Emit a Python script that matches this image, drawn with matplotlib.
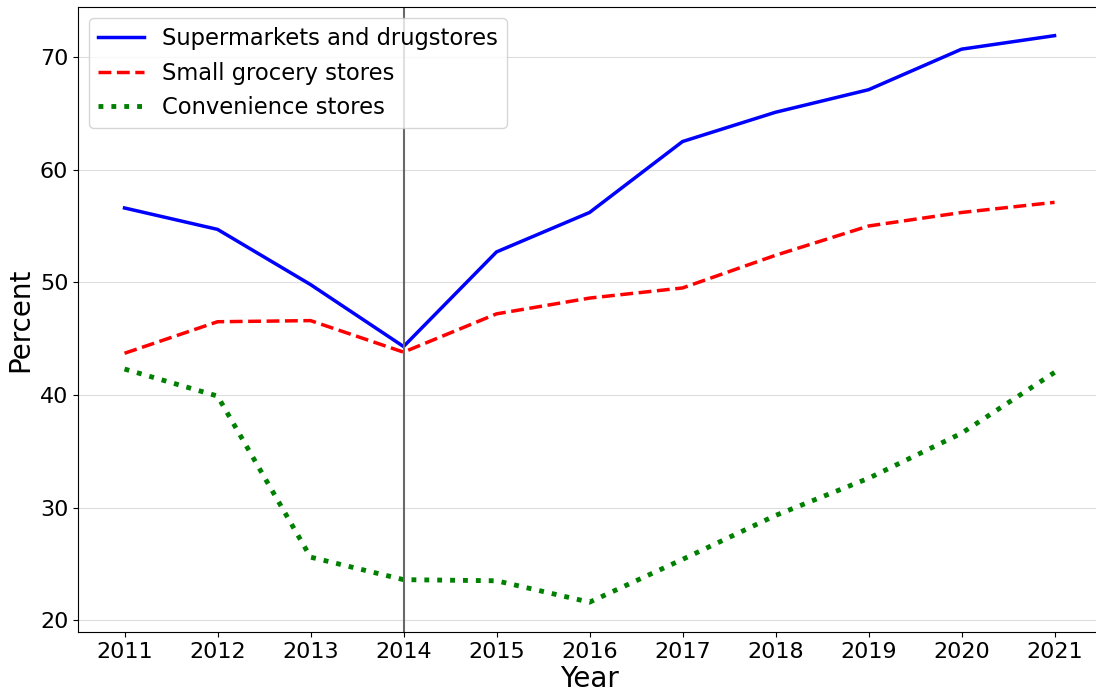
import numpy as np
import matplotlib
matplotlib.use("Agg")
import matplotlib.pyplot as plt

# data
years = [2011, 2012, 2013, 2014, 2015, 2016, 2017, 2018, 2019, 2020, 2021]
supermarkets = [56.6, 54.7, 49.8, 44.3, 52.7, 56.2, 62.5, 65.1, 67.1, 70.7, 71.9]
small_grocery = [43.7, 46.5, 46.6, 43.8, 47.2, 48.6, 49.5, 52.4, 55.0, 56.2, 57.1]
convenience = [42.3, 39.9, 25.6, 23.6, 23.5, 21.6, 25.4, 29.3, 32.6, 36.6, 42.0]
y_ticks = [20, 30, 40, 50, 60, 70]

fig, ax = plt.subplots(figsize=(10.96, 6.94), dpi=100)
# the reference is cropped: the right spine sits just past the image edge
fig.subplots_adjust(left=0.0712, right=1.0046, top=0.99, bottom=0.0893)

ax.plot(years, supermarkets, color="blue", linestyle="-", linewidth=2.5,
        label="Supermarkets and drugstores")
ax.plot(years, small_grocery, color="red", linestyle="--", linewidth=2.5,
        label="Small grocery stores")
ax.plot(years, convenience, color="green", linestyle=":", linewidth=3.5,
        label="Convenience stores")

ax.axvline(2014, color="dimgray", linewidth=1.5)

ax.set_xticks(years)
ax.set_yticks(y_ticks)
ax.set_xlim(2010.5, 2021.5)
ax.set_ylim(18.95, 74.45)
ax.spines["right"].set_visible(False)
ax.yaxis.grid(True, color="#dddddd", linewidth=0.8)
ax.set_axisbelow(True)
ax.tick_params(labelsize=16)
ax.set_xlabel("Year", fontsize=20, labelpad=2)
ax.set_ylabel("Percent", fontsize=20)
ax.legend(loc="upper left", fontsize=16.3)

plt.savefig("out.png")
